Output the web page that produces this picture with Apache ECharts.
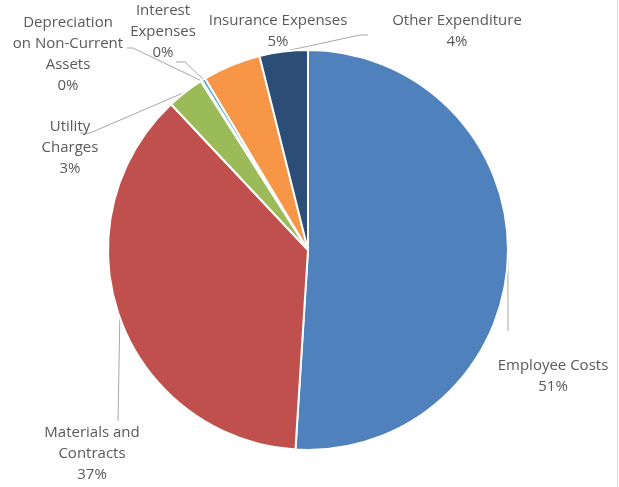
<!DOCTYPE html>
<html><head><meta charset="utf-8">
<script src="https://cdn.jsdelivr.net/npm/echarts@6/dist/echarts.min.js"></script>
<style>html,body{margin:0;padding:0;background:#fff}#c{width:617px;height:487px;border-right:1px solid #d9d9d9}</style>
</head><body><div id="c"></div>
<script>
const categories = ["Employee Costs", "Materials and\nContracts", "Utility\nCharges", "Depreciation\non Non-Current\nAssets", "Interest\nExpenses", "Insurance Expenses", "Other Expenditure"];
const values = [51.0, 37.0, 3.0, 0.1, 0.3, 4.7, 3.9];
const colors = ["#4F81BD", "#C0504D", "#9BBB59", "#8064A2", "#4BACC6", "#F79646", "#2C4D75"];
const labelPos = [[553, 376], [92, 454], [70, 148], [68, 54], [163, 32], [278, 31], [457, 31]];
// leader line bend/end points (layout only)
const leaderTail = [[[508, 331]], [[118, 421]], [[90, 133], [80, 133]], [[133, 48], [127, 48]], [[185, 62], [176, 62]], null, [[360, 35], [368, 35]]];

const chart = echarts.init(document.getElementById('c'));
chart.setOption({
  animation: false,
  series: [{
    type: 'pie',
    center: [308, 250],
    radius: 200,
    startAngle: 90,
    clockwise: true,
    percentPrecision: 0,
    itemStyle: { borderColor: '#fff', borderWidth: 2 },
    label: {
      show: true,
      formatter: '{b}\n{d}%',
      color: '#595959',
      fontSize: 15,
      lineHeight: 21,
      overflow: 'none',
      fontFamily: '"Open Sans", sans-serif',
      align: 'center'
    },
    labelLine: { show: true, lineStyle: { color: '#a6a6a6', width: 1 }, length: 10, length2: 10 },
    labelLayout: function (p) {
      const i = p.dataIndex;
      const pos = labelPos[i];
      const out = { x: pos[0], y: pos[1], align: 'center', verticalAlign: 'middle' };
      const start = p.labelLinePoints ? p.labelLinePoints[0] : null;
      if (leaderTail[i] && start) {
        const pts = [start].concat(leaderTail[i]);
        while (pts.length < 3) pts.push(pts[pts.length - 1]);
        out.labelLinePoints = pts;
      } else {
        out.labelLinePoints = start ? [start, start, start] : undefined;
      }
      return out;
    },
    data: categories.map((c, i) => ({ name: c, value: values[i], itemStyle: { color: colors[i] } }))
  }]
});
</script></body></html>
